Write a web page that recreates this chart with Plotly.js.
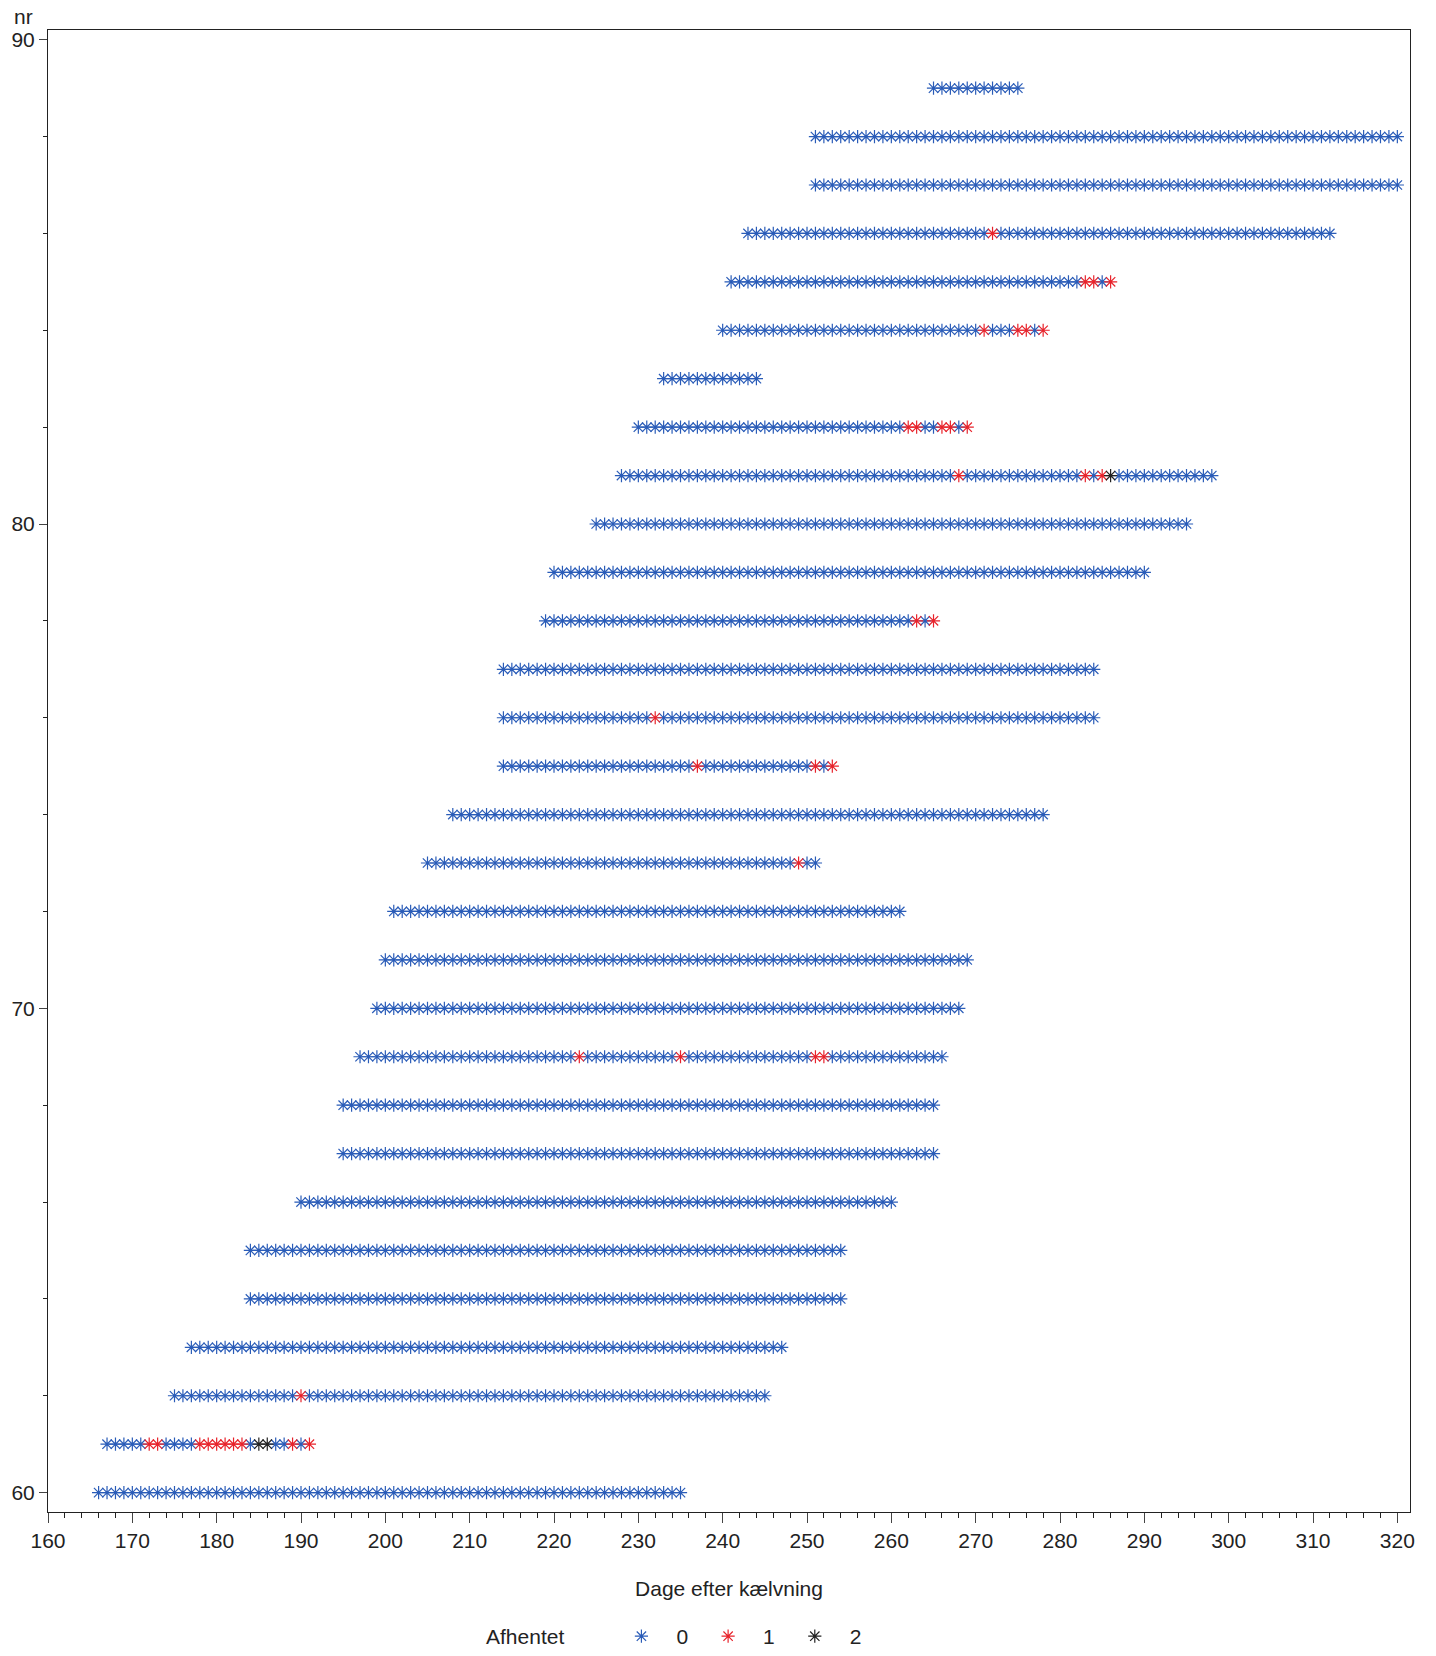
<!DOCTYPE html>
<html><head><meta charset="utf-8">
<script src="https://cdn.plot.ly/plotly-3.0.1.min.js"></script>
<style>body{margin:0;background:#fff}#plot{width:1436px;height:1656px}</style>
</head><body><div id="plot"></div>
<script>
const nr       = [60, 61, 62, 63, 64, 65, 66, 67, 68, 69, 70, 71, 72, 73, 74, 75, 76, 77, 78, 79, 80, 81, 82, 83, 84, 85, 86, 87, 88, 89];
const startDay = [166,167,175,177,184,184,190,195,195,197,199,200,201,205,208,214,214,214,219,220,225,228,230,233,240,241,243,251,251,265];
const endDay   = [235,191,245,247,254,254,260,265,265,266,268,269,261,251,278,253,284,284,265,290,295,298,269,244,278,286,312,320,320,275];
// days with Afhentet = 1 (red) and = 2 (black), per nr
const red1 = {61:[172,173,178,179,180,181,182,183,189,191], 62:[190], 69:[223,235,251,252], 73:[249],
  75:[237,251,253], 76:[232], 78:[263,265], 81:[268,283,285], 82:[262,263,266,267,269],
  84:[271,275,276,278], 85:[283,284,286], 86:[272]};
const black2 = {61:[185,186], 81:[286]};

const groups = {0:{x:[],y:[]},1:{x:[],y:[]},2:{x:[],y:[]}};
nr.forEach((n,i)=>{
  for(let d=startDay[i]; d<=endDay[i]; d++){
    let v = 0;
    if((red1[n]||[]).includes(d)) v = 1;
    if((black2[n]||[]).includes(d)) v = 2;
    groups[v].x.push(d); groups[v].y.push(n);
  }
});
const colors = {0:'#2a5cb8',1:'#e8232b',2:'#222222'};
const traces = [0,1,2].map(v=>({
  x:groups[v].x, y:groups[v].y, type:'scatter', mode:'markers', name:String(v),
  marker:{symbol:'asterisk-open', size:11, color:colors[v], line:{color:colors[v], width:1.2}}
}));

const fnt = {family:'Liberation Sans, Arial', size:21, color:'#222'};
Plotly.newPlot('plot', traces, {
  width:1436, height:1656, paper_bgcolor:'#fff', plot_bgcolor:'#fff',
  margin:{l:48, r:26, t:30, b:144, autoexpand:false},
  showlegend:true,
  legend:{orientation:'h', x:0.41, y:-0.084, xanchor:'left', yanchor:'middle', font:fnt, itemwidth:60},
  xaxis:{range:[160,321.5], tickvals:[160,170,180,190,200,210,220,230,240,250,260,270,280,290,300,310,320],
    ticks:'outside', ticklen:10, showline:true, mirror:true, linecolor:'#222', showgrid:false, zeroline:false,
    minor:{dtick:2, ticks:'outside', ticklen:5, tickcolor:'#222'},
    tickfont:fnt, title:{text:'Dage efter kælvning', font:fnt, standoff:30}},
  yaxis:{range:[59.6,90.2], tickvals:[60,70,80,90], ticks:'outside', ticklen:8, showline:true, mirror:true,
    linecolor:'#222', showgrid:false, zeroline:false, minor:{dtick:2, ticks:'outside', ticklen:4, tickcolor:'#222'},
    tickfont:fnt},
  annotations:[
    {text:'nr', xref:'paper', yref:'paper', x:-0.018, y:1.0, xanchor:'center', yanchor:'bottom', showarrow:false, font:fnt},
    {text:'Afhentet', xref:'paper', yref:'paper', x:0.35, y:-0.084, xanchor:'center', yanchor:'middle', showarrow:false, font:fnt}
  ]
}, {displayModeBar:false});
</script></body></html>
